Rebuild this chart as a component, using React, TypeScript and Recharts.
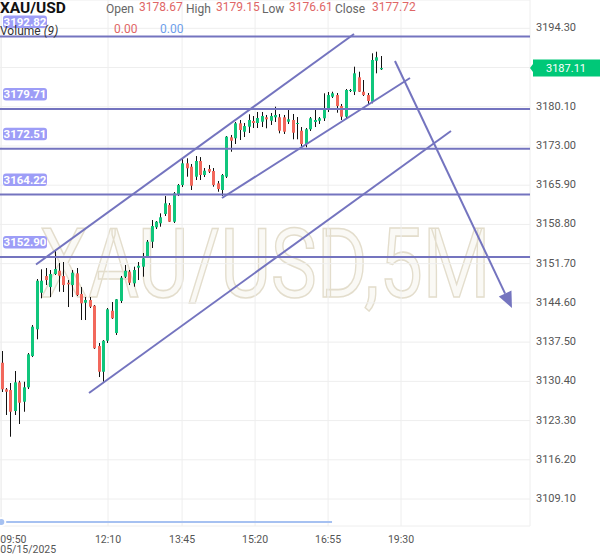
import React from 'react';
import {
  ComposedChart,
  Bar,
  Line,
  XAxis,
  YAxis,
  CartesianGrid,
  ReferenceLine,
} from 'recharts';

// 5 minute candles, XAU/USD
const opens = [
  3133.77, 3128.96, 3128.83, 3125.03, 3130.22, 3126.71, 3129.32, 3134.98, 3139.82, 3146.44,
  3149.46, 3147.47, 3149.83, 3150.42, 3149.46, 3148.25, 3147.83, 3149.95, 3146.21, 3144.63,
  3145.12, 3144.09, 3136.79, 3132.14, 3137.75, 3143.18, 3139.15, 3144.94, 3149.34, 3150.25,
  3148.14, 3150.97, 3151.15, 3152.96, 3155.67, 3158.28, 3159.0, 3160.69, 3162.31, 3159.29,
  3164.31, 3165.93, 3169.86, 3169.25, 3167.44, 3170.28, 3167.75, 3168.83, 3168.47, 3166.24,
  3165.03, 3167.44, 3174.57, 3174.39, 3177.1, 3175.58, 3176.49, 3177.52, 3177.16, 3177.39,
  3178.19, 3177.57, 3178.19, 3178.19, 3178.19, 3177.39, 3177.7, 3176.98, 3175.76, 3173.36,
  3176.02, 3177.34, 3177.57, 3178.01, 3179.64, 3181.92, 3182.22, 3180.23, 3178.3, 3182.95,
  3182.82, 3185.43, 3182.82, 3182.22, 3181.01, 3188.43, 3186.88,
];
const highs = [
  3135.89, 3129.19, 3130.1, 3132.27, 3130.5, 3130.33, 3135.53, 3140.6, 3148.92, 3150.68,
  3150.91, 3150.55, 3154.17, 3151.82, 3152.0, 3148.74, 3150.55, 3150.91, 3147.47, 3145.66,
  3145.66, 3144.22, 3137.34, 3137.88, 3143.67, 3144.76, 3145.3, 3149.47, 3151.46, 3150.55,
  3151.15, 3152.0, 3153.63, 3155.98, 3159.6, 3159.42, 3160.81, 3163.94, 3162.68, 3164.67,
  3166.12, 3170.77, 3170.77, 3169.74, 3171.18, 3170.99, 3169.01, 3169.56, 3169.01, 3166.66,
  3167.93, 3174.8, 3174.99, 3177.34, 3177.7, 3177.16, 3178.73, 3178.42, 3179.15, 3179.15,
  3178.61, 3178.97, 3180.11, 3178.79, 3178.61, 3179.82, 3178.79, 3178.24, 3176.43, 3176.25,
  3178.24, 3179.69, 3178.24, 3182.53, 3182.77, 3182.82, 3182.59, 3180.6, 3183.31, 3183.31,
  3187.35, 3186.44, 3184.94, 3182.59, 3189.77, 3190.06, 3189.28,
];
const lows = [
  3128.47, 3124.31, 3120.38, 3124.31, 3122.68, 3124.9, 3129.01, 3134.8, 3138.01, 3145.43,
  3147.83, 3145.66, 3149.65, 3146.62, 3146.57, 3143.85, 3145.66, 3145.84, 3141.5, 3141.5,
  3143.67, 3136.25, 3131.18, 3130.33, 3137.34, 3141.68, 3138.79, 3144.58, 3149.1, 3147.83,
  3147.53, 3148.74, 3149.34, 3152.72, 3154.53, 3157.97, 3158.39, 3160.33, 3159.24, 3159.06,
  3163.94, 3165.57, 3167.44, 3165.03, 3166.84, 3166.84, 3167.38, 3168.11, 3165.63, 3164.72,
  3163.94, 3167.2, 3171.96, 3173.36, 3174.08, 3174.62, 3175.35, 3176.25, 3176.25, 3176.43,
  3176.2, 3176.8, 3177.34, 3175.29, 3175.17, 3176.98, 3174.21, 3174.21, 3172.87, 3172.76,
  3175.71, 3176.43, 3176.98, 3177.52, 3179.15, 3181.68, 3179.02, 3177.7, 3178.06, 3182.77,
  3182.22, 3182.77, 3182.04, 3180.41, 3180.72, 3186.15, 3186.75,
];
const closes = [
  3128.96, 3128.52, 3124.9, 3130.22, 3126.53, 3129.32, 3135.29, 3140.29, 3148.61, 3148.61,
  3148.74, 3149.83, 3150.73, 3149.52, 3147.83, 3147.96, 3150.06, 3146.02, 3144.52, 3145.12,
  3143.91, 3136.38, 3132.14, 3137.75, 3143.44, 3141.81, 3145.25, 3149.16, 3150.42, 3148.25,
  3150.55, 3151.33, 3152.67, 3155.67, 3158.51, 3159.29, 3160.09, 3162.62, 3159.29, 3164.43,
  3165.93, 3169.86, 3168.96, 3165.81, 3170.28, 3167.75, 3168.53, 3168.35, 3165.93, 3165.21,
  3167.75, 3174.68, 3173.95, 3177.1, 3175.89, 3176.61, 3177.7, 3177.16, 3178.06, 3178.42,
  3177.83, 3178.42, 3178.61, 3175.76, 3175.58, 3177.83, 3175.4, 3177.16, 3173.36, 3176.02,
  3178.01, 3177.7, 3178.01, 3179.64, 3182.22, 3182.53, 3180.23, 3178.3, 3183.13, 3183.13,
  3186.15, 3182.82, 3182.22, 3181.14, 3188.56, 3189.05, 3187.11,
];
// volume study (all zero in this feed)
const volume = [
  0, 0, 0, 0, 0, 0, 0, 0, 0, 0, 0, 0, 0, 0, 0, 0, 0, 0, 0, 0,
  0, 0, 0, 0, 0, 0, 0, 0, 0, 0, 0, 0, 0, 0, 0, 0, 0, 0, 0, 0,
  0, 0, 0, 0, 0, 0, 0, 0, 0, 0, 0, 0, 0, 0, 0, 0, 0, 0, 0, 0,
  0, 0, 0, 0, 0, 0, 0, 0, 0, 0, 0, 0, 0, 0, 0, 0,
];

const priceTicks = [
  3109.1, 3116.2, 3123.3, 3130.4, 3137.5, 3144.6, 3151.7, 3158.8, 3165.9, 3173.0, 3180.1,
  3187.2, 3194.3,
];
const timeLabels = ['09:50', '12:10', '13:45', '15:20', '16:55', '19:30'];
const timeSlots = [0, 24.2, 41.0, 57.55, 74.1, 90.65];
const dateLabel = '05/15/2025';

// drawings
const levels = [3192.82, 3179.71, 3172.51, 3164.22, 3152.9];
const channels = [
  [{ x: 7.87, y: 3151.55 }, { x: 79.98, y: 3193.27 }],
  [{ x: 50.04, y: 3163.58 }, { x: 92.68, y: 3185.3 }],
  [{ x: 19.89, y: 3128.29 }, { x: 101.97, y: 3175.71 }],
];
const arrowSegment = [{ x: 89.27, y: 3188.38 }, { x: 115.8, y: 3143.67 }];

const UP = '#10c67c';
const DOWN = '#f2685c';
const PURPLE = '#7474bf';
const FONT = 'Roboto, sans-serif';

const candles = opens.map((o, i) => ({
  i,
  o,
  h: highs[i],
  l: lows[i],
  c: closes[i],
  range: [lows[i], highs[i]],
  vol: volume[i],
}));
const lastPrice = closes[closes.length - 1];

function Candle(props: any) {
  const { x, y, width, height, payload } = props;
  if (x == null || y == null) return null;
  const top = Math.min(y, y + height);
  const span = Math.abs(height);
  const { o, h, l, c } = payload;
  const toY = (v: number) => top + ((h - v) / (h - l)) * span;
  const cx = Math.round(x + width / 2);
  const bodyTop = toY(Math.max(o, c));
  const bodyH = Math.max(toY(Math.min(o, c)) - bodyTop, 1);
  return (
    <g>
      <line x1={cx + 0.5} x2={cx + 0.5} y1={top} y2={top + span} stroke="#111" strokeWidth={1} />
      <rect x={cx - 1} y={bodyTop} width={3} height={bodyH} fill={c >= o ? UP : DOWN} />
    </g>
  );
}

function LevelBadge({ viewBox, value }: any) {
  const { x, y } = viewBox;
  return (
    <g>
      <rect x={x + 3} y={y - 21} width={44} height={12.5} rx={3} fill="#9d9df7" />
      <text
        x={x + 25}
        y={y - 10.8}
        textAnchor="middle"
        fontSize={11.5}
        fontWeight={700}
        fontFamily={FONT}
        fill="#fff"
      >
        {value.toFixed(2)}
      </text>
    </g>
  );
}

function PriceBadge({ viewBox, value }: any) {
  const x = viewBox.x + viewBox.width;
  const y = viewBox.y;
  return (
    <g>
      <path
        d={`M${x} ${y} L${x + 3} ${y - 4} V${y - 8.5} H${x + 70} V${y + 8.5} H${x + 3} V${y + 4} Z`}
        fill="#00c878"
      />
      <text x={x + 36} y={y + 4} textAnchor="middle" fontSize={11} fontFamily={FONT} fill="#fff">
        {value.toFixed(2)}
      </text>
    </g>
  );
}

function ArrowShape(props: any) {
  const { x1, y1, x2, y2 } = props;
  if ([x1, y1, x2, y2].some((v) => v == null)) return null;
  const len = Math.hypot(x2 - x1, y2 - y1);
  const ux = (x2 - x1) / len;
  const uy = (y2 - y1) / len;
  const bx = x2 - ux * 16;
  const by = y2 - uy * 16;
  const nx = -uy;
  const ny = ux;
  return (
    <g>
      <line x1={x1} y1={y1} x2={bx} y2={by} stroke={PURPLE} strokeWidth={2} />
      <polygon
        points={`${x2},${y2} ${bx + nx * 7},${by + ny * 7} ${bx - nx * 7},${by - ny * 7}`}
        fill={PURPLE}
      />
    </g>
  );
}

function PriceTick({ x, y, payload }: any) {
  // the last price badge sits on top of this one
  if (Math.abs(payload.value - lastPrice) < 1) return null;
  return (
    <text x={x} y={y} dy={3} textAnchor="start" fontSize={11} fontFamily={FONT} fill="#555">
      {Number(payload.value).toFixed(2)}
    </text>
  );
}

function TimeTick({ x, y, payload }: any) {
  const k = timeSlots.indexOf(payload.value);
  if (k < 0) return null;
  if (k === 0) {
    return (
      <g fontSize={10.5} fontFamily={FONT} fill="#555">
        <text x={x - 1} y={y + 16.5} textAnchor="start">
          {timeLabels[k]}
        </text>
        <text x={x - 1} y={y + 26.5} textAnchor="start">
          {dateLabel}
        </text>
      </g>
    );
  }
  return (
    <text x={x} y={y + 16.5} textAnchor="middle" fontSize={10.5} fontFamily={FONT} fill="#555">
      {timeLabels[k]}
    </text>
  );
}

export default function App() {
  return (
    <div
      style={{
        position: 'absolute',
        left: 0,
        top: 0,
        width: 600,
        height: 558,
        background: '#fff',
        fontFamily: FONT,
        overflow: 'hidden',
      }}
    >
      {/* watermark */}
      <svg width={600} height={558} style={{ position: 'absolute', left: 0, top: 0 }}>
        <text
          transform="translate(265 297) scale(0.8 1)"
          x={0}
          y={0}
          textAnchor="middle"
          fontSize={97}
          fontFamily={FONT}
          fill="rgba(235,230,215,0.25)"
          stroke="#e3ddcc"
          strokeWidth={1.6}
        >
          XAU/USD,5M
        </text>
      </svg>

      <ComposedChart
        width={600}
        height={558}
        data={candles}
        margin={{ top: 0, right: 0, bottom: 0, left: 0 }}
      >
        <CartesianGrid stroke="#eeeeee" />
        <XAxis
          dataKey="i"
          type="number"
          domain={[-0.295, 119.89]}
          allowDataOverflow
          ticks={timeSlots}
          interval={0}
          height={32}
          axisLine={false}
          tickLine={false}
          tickSize={0}
          tickMargin={0}
          tick={<TimeTick />}
        />
        <YAxis
          orientation="right"
          domain={[3104.22, 3199.42]}
          allowDataOverflow
          ticks={priceTicks}
          interval={0}
          width={70}
          axisLine={false}
          tickLine={false}
          tickSize={0}
          tickMargin={6}
          tick={<PriceTick />}
        />
        <YAxis yAxisId="vol" hide domain={[-0.0077, 1]} />
        <Line
          yAxisId="vol"
          dataKey="vol"
          stroke="#a6c1f1"
          strokeWidth={2}
          dot={false}
          isAnimationActive={false}
        />
        <Bar dataKey="range" barSize={3} shape={<Candle />} isAnimationActive={false} />
        {levels.map((v) => (
          <ReferenceLine
            key={v}
            y={v}
            stroke={PURPLE}
            strokeWidth={2}
            label={(p: any) => <LevelBadge viewBox={p.viewBox} value={v} />}
          />
        ))}
        {channels.map((seg, k) => (
          <ReferenceLine key={k} segment={seg} stroke={PURPLE} strokeWidth={2} />
        ))}
        <ReferenceLine segment={arrowSegment} shape={(p: any) => <ArrowShape {...p} />} />
        <ReferenceLine
          y={lastPrice}
          stroke="none"
          label={(p: any) => <PriceBadge viewBox={p.viewBox} value={lastPrice} />}
        />
      </ComposedChart>

      {/* legend / OHLC header */}
      <svg
        width={600}
        height={60}
        style={{ position: 'absolute', left: 0, top: 0, pointerEvents: 'none' }}
        fontFamily={FONT}
      >
        <text x={0} y={13} fontSize={15.5} fontWeight={700} fill="#111">
          XAU/USD
        </text>
        <g fontSize={12} fill="#666">
          <text x={106} y={13.3}>Open</text>
          <text x={186} y={13.3}>High</text>
          <text x={262} y={13.3}>Low</text>
          <text x={335} y={13.3}>Close</text>
        </g>
        <g fontSize={12} fill="#e06666">
          <text x={139} y={11}>3178.67</text>
          <text x={216} y={11}>3179.15</text>
          <text x={289} y={11}>3176.61</text>
          <text x={372} y={11}>3177.72</text>
        </g>
        <text x={0} y={35} fontSize={12} fill="#333">
          Volume <tspan fontStyle="italic">(9)</tspan>
        </text>
        <text x={114} y={32.7} fontSize={12} fill="#e06666">
          0.00
        </text>
        <text x={160} y={32.7} fontSize={12} fill="#6d9eeb">
          0.00
        </text>
      </svg>
    </div>
  );
}
